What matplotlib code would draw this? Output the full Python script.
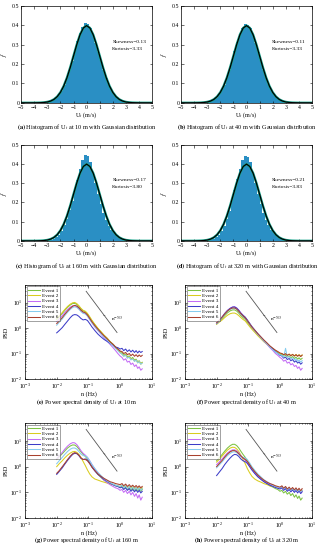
import matplotlib
matplotlib.use("Agg")
import matplotlib.pyplot as plt

plt.rcParams['font.family'] = ['Liberation Serif', 'DejaVu Serif']
plt.rcParams['mathtext.fontset'] = 'stix'

# histogram bins (centres, width 0.2)
binCentres = [-3.1, -2.9, -2.7, -2.5, -2.3, -2.1, -1.9, -1.7, -1.5, -1.3, -1.1, -0.9, -0.7, -0.5, -0.3, -0.1,
              0.1, 0.3, 0.5, 0.7, 0.9, 1.1, 1.3, 1.5, 1.7, 1.9, 2.1, 2.3, 2.5, 2.7, 2.9, 3.1]

hist10 = [0.002, 0.004, 0.008, 0.014, 0.024, 0.040, 0.062, 0.092, 0.128, 0.170, 0.218, 0.268, 0.318, 0.362, 0.394, 0.412,
          0.408, 0.388, 0.352, 0.308, 0.262, 0.214, 0.170, 0.130, 0.096, 0.068, 0.046, 0.030, 0.019, 0.011, 0.006, 0.003]
hist40 = [0.002, 0.004, 0.008, 0.015, 0.025, 0.041, 0.064, 0.093, 0.129, 0.171, 0.218, 0.267, 0.315, 0.358, 0.389, 0.405,
          0.403, 0.385, 0.351, 0.308, 0.263, 0.215, 0.170, 0.130, 0.095, 0.067, 0.045, 0.029, 0.018, 0.010, 0.006, 0.003]
hist160 = [0.002, 0.004, 0.007, 0.012, 0.020, 0.033, 0.052, 0.080, 0.115, 0.158, 0.208, 0.262, 0.318, 0.372, 0.418, 0.445,
           0.440, 0.410, 0.360, 0.300, 0.242, 0.190, 0.145, 0.108, 0.079, 0.057, 0.041, 0.029, 0.020, 0.013, 0.008, 0.005]
hist320 = [0.002, 0.003, 0.006, 0.011, 0.019, 0.032, 0.051, 0.078, 0.113, 0.156, 0.206, 0.262, 0.320, 0.376, 0.422, 0.440,
           0.436, 0.408, 0.360, 0.302, 0.244, 0.192, 0.147, 0.110, 0.081, 0.059, 0.043, 0.030, 0.021, 0.014, 0.009, 0.006]

# standard gaussian read at 0.25 steps
gaussX = [-5.0, -4.75, -4.5, -4.25, -4.0, -3.75, -3.5, -3.25, -3.0, -2.75, -2.5, -2.25, -2.0, -1.75, -1.5, -1.25, -1.0,
          -0.75, -0.5, -0.25, 0.0, 0.25, 0.5, 0.75, 1.0, 1.25, 1.5, 1.75, 2.0, 2.25, 2.5, 2.75, 3.0, 3.25, 3.5, 3.75,
          4.0, 4.25, 4.5, 4.75, 5.0]
gaussY = [0.0, 0.0, 0.0, 0.0, 0.0001, 0.0004, 0.0009, 0.0020, 0.0044, 0.0091, 0.0175, 0.0317, 0.0540, 0.0863, 0.1295,
          0.1826, 0.2420, 0.3011, 0.3521, 0.3867, 0.3989, 0.3867, 0.3521, 0.3011, 0.2420, 0.1826, 0.1295, 0.0863,
          0.0540, 0.0317, 0.0175, 0.0091, 0.0044, 0.0020, 0.0009, 0.0004, 0.0001, 0.0, 0.0, 0.0, 0.0]

skewness = ["0.13", "0.11", "0.17", "0.21"]
kurtosis = ["3.33", "3.33", "3.80", "3.83"]
heights = ["10", "40", "160", "320"]

# PSD frequency grid
freq = [0.010, 0.012, 0.015, 0.018, 0.022, 0.027, 0.032, 0.037, 0.043, 0.050, 0.058, 0.068, 0.080, 0.093, 0.11,
        0.13, 0.16, 0.20, 0.25, 0.31, 0.39, 0.48, 0.60, 0.72, 0.85, 1.0, 1.15, 1.3, 1.5, 1.7, 1.95, 2.2, 2.5,
        2.85, 3.2, 3.6, 4.0, 4.5, 5.0]

psd10 = [
    [2.2, 2.8, 3.8, 5.0, 6.6, 8.2, 9.3, 9.4, 8.6, 7.2, 5.8, 4.8, 4.4, 3.6, 2.6, 1.9, 1.35, 0.95, 0.70, 0.52,
     0.40, 0.30, 0.23, 0.18, 0.15, 0.12, 0.11, 0.085, 0.095, 0.075, 0.08, 0.062, 0.07, 0.055, 0.06, 0.047, 0.052, 0.04, 0.045],
    [2.4, 3.0, 4.1, 5.4, 7.1, 8.8, 9.9, 10.2, 9.2, 7.6, 6.0, 5.0, 4.6, 3.8, 2.8, 2.0, 1.4, 0.98, 0.72, 0.53,
     0.40, 0.29, 0.22, 0.17, 0.14, 0.11, 0.095, 0.08, 0.088, 0.068, 0.074, 0.058, 0.064, 0.05, 0.056, 0.043, 0.049, 0.038, 0.044],
    [1.8, 2.3, 3.1, 4.1, 5.4, 6.7, 7.5, 7.6, 7.0, 5.9, 4.8, 4.0, 3.7, 3.0, 2.2, 1.6, 1.1, 0.80, 0.58, 0.42,
     0.31, 0.23, 0.17, 0.13, 0.10, 0.08, 0.07, 0.055, 0.062, 0.046, 0.05, 0.037, 0.042, 0.031, 0.036, 0.026, 0.03, 0.022, 0.025],
    [0.65, 0.8, 1.05, 1.4, 1.9, 2.6, 3.2, 3.4, 3.3, 2.9, 2.4, 2.1, 2.2, 2.0, 1.5, 1.1, 0.8, 0.58, 0.45, 0.36,
     0.30, 0.25, 0.21, 0.18, 0.17, 0.15, 0.16, 0.13, 0.15, 0.12, 0.14, 0.115, 0.135, 0.11, 0.13, 0.105, 0.125, 0.11, 0.12],
    [1.3, 1.7, 2.3, 3.1, 4.2, 5.5, 6.5, 6.9, 6.5, 5.5, 4.5, 3.8, 3.6, 3.0, 2.2, 1.6, 1.15, 0.82, 0.60, 0.45,
     0.34, 0.26, 0.20, 0.16, 0.13, 0.105, 0.095, 0.078, 0.085, 0.066, 0.072, 0.056, 0.062, 0.049, 0.055, 0.043, 0.048, 0.038, 0.042],
    [1.5, 1.9, 2.6, 3.5, 4.7, 6.1, 7.3, 7.8, 7.4, 6.3, 5.1, 4.3, 4.0, 3.3, 2.4, 1.75, 1.25, 0.9, 0.66, 0.5,
     0.38, 0.29, 0.23, 0.18, 0.15, 0.125, 0.12, 0.1, 0.11, 0.09, 0.1, 0.082, 0.095, 0.078, 0.09, 0.075, 0.088, 0.076, 0.085],
]

psd40 = [
    [1.5, 1.8, 2.4, 3.1, 4.0, 4.8, 5.2, 5.2, 4.7, 3.9, 3.1, 2.6, 2.2, 1.7, 1.3, 1.0, 0.75, 0.55, 0.41, 0.31,
     0.24, 0.19, 0.15, 0.125, 0.11, 0.095, 0.09, 0.078, 0.085, 0.072, 0.08, 0.068, 0.076, 0.064, 0.072, 0.06, 0.068, 0.058, 0.065],
    [1.4, 1.7, 2.1, 2.6, 3.2, 3.7, 3.9, 3.9, 3.6, 3.1, 2.6, 2.2, 1.9, 1.5, 1.15, 0.9, 0.68, 0.5, 0.38, 0.29,
     0.23, 0.18, 0.15, 0.13, 0.115, 0.1, 0.1, 0.088, 0.098, 0.085, 0.095, 0.082, 0.093, 0.08, 0.092, 0.08, 0.09, 0.078, 0.088],
    [1.6, 2.0, 2.8, 3.8, 5.0, 6.1, 6.8, 6.9, 6.2, 5.1, 4.0, 3.2, 2.6, 2.0, 1.5, 1.1, 0.8, 0.58, 0.42, 0.31,
     0.23, 0.17, 0.13, 0.1, 0.085, 0.07, 0.062, 0.05, 0.055, 0.042, 0.046, 0.036, 0.04, 0.031, 0.034, 0.026, 0.03, 0.022, 0.026],
    [1.5, 1.9, 2.7, 3.7, 4.9, 6.0, 6.7, 6.8, 6.1, 5.0, 3.9, 3.2, 2.7, 2.1, 1.55, 1.15, 0.84, 0.6, 0.44, 0.33,
     0.25, 0.19, 0.15, 0.12, 0.1, 0.085, 0.08, 0.066, 0.072, 0.058, 0.064, 0.052, 0.058, 0.046, 0.052, 0.042, 0.047, 0.038, 0.043],
    [1.5, 1.9, 2.6, 3.5, 4.6, 5.5, 6.0, 6.0, 5.4, 4.5, 3.5, 2.9, 2.4, 1.9, 1.4, 1.05, 0.78, 0.57, 0.42, 0.31,
     0.24, 0.18, 0.14, 0.115, 0.1, 0.088, 0.085, 0.072, 0.16, 0.07, 0.075, 0.062, 0.068, 0.056, 0.062, 0.05, 0.056, 0.046, 0.052],
    [1.6, 2.0, 2.7, 3.6, 4.7, 5.7, 6.2, 6.2, 5.6, 4.6, 3.7, 3.0, 2.5, 1.95, 1.45, 1.1, 0.82, 0.6, 0.45, 0.34,
     0.26, 0.2, 0.16, 0.135, 0.12, 0.105, 0.1, 0.09, 0.098, 0.085, 0.094, 0.082, 0.092, 0.08, 0.09, 0.078, 0.088, 0.076, 0.086],
]

psd160 = [
    [1.9, 2.4, 3.2, 4.1, 5.3, 6.4, 7.0, 6.9, 6.1, 4.9, 3.8, 3.0, 2.5, 2.0, 1.5, 1.05, 0.72, 0.5, 0.38, 0.3,
     0.25, 0.22, 0.2, 0.18, 0.17, 0.16, 0.17, 0.14, 0.16, 0.13, 0.15, 0.125, 0.145, 0.12, 0.14, 0.115, 0.135, 0.11, 0.13],
    [1.0, 1.3, 1.7, 2.2, 2.8, 3.4, 3.8, 3.9, 3.6, 3.0, 2.3, 1.6, 1.1, 0.75, 0.52, 0.4, 0.33, 0.3, 0.27, 0.25,
     0.23, 0.21, 0.2, 0.19, 0.18, 0.17, 0.19, 0.16, 0.18, 0.15, 0.17, 0.145, 0.165, 0.14, 0.16, 0.135, 0.155, 0.13, 0.15],
    [2.0, 2.6, 3.6, 4.8, 6.3, 7.8, 8.6, 8.4, 7.2, 5.6, 4.2, 3.3, 2.8, 2.3, 1.7, 1.2, 0.8, 0.55, 0.4, 0.3,
     0.24, 0.2, 0.17, 0.15, 0.14, 0.12, 0.13, 0.1, 0.12, 0.09, 0.11, 0.08, 0.1, 0.07, 0.09, 0.06, 0.08, 0.05, 0.065],
    [0.5, 0.65, 0.9, 1.25, 1.75, 2.4, 3.0, 3.3, 3.2, 2.7, 2.1, 1.9, 2.0, 1.8, 1.35, 0.95, 0.68, 0.5, 0.4, 0.32,
     0.27, 0.23, 0.2, 0.18, 0.17, 0.15, 0.16, 0.13, 0.15, 0.12, 0.14, 0.11, 0.13, 0.105, 0.125, 0.1, 0.12, 0.095, 0.11],
    [1.3, 1.7, 2.3, 3.0, 3.9, 4.8, 5.3, 5.3, 4.8, 3.9, 3.1, 2.7, 2.6, 2.3, 1.7, 1.2, 0.85, 0.6, 0.45, 0.35,
     0.28, 0.24, 0.21, 0.19, 0.18, 0.17, 0.19, 0.15, 0.18, 0.14, 0.17, 0.135, 0.16, 0.13, 0.155, 0.125, 0.15, 0.12, 0.14],
    [0.55, 0.7, 1.0, 1.35, 1.9, 2.6, 3.2, 3.5, 3.3, 2.8, 2.2, 1.9, 1.9, 1.7, 1.3, 0.95, 0.7, 0.52, 0.42, 0.35,
     0.3, 0.26, 0.24, 0.22, 0.21, 0.2, 0.22, 0.18, 0.21, 0.17, 0.2, 0.165, 0.19, 0.16, 0.185, 0.155, 0.18, 0.15, 0.17],
]

psd320 = [
    [1.7, 2.2, 3.0, 4.0, 5.3, 6.6, 7.4, 7.4, 6.6, 5.3, 4.0, 3.0, 2.3, 1.7, 1.25, 0.9, 0.63, 0.45, 0.34, 0.27,
     0.22, 0.18, 0.16, 0.14, 0.13, 0.11, 0.12, 0.095, 0.11, 0.085, 0.1, 0.075, 0.09, 0.065, 0.08, 0.058, 0.072, 0.05, 0.06],
    [1.5, 1.9, 2.6, 3.4, 4.4, 5.3, 5.7, 5.6, 4.9, 3.9, 2.8, 1.9, 1.3, 0.85, 0.58, 0.42, 0.33, 0.28, 0.25, 0.22,
     0.2, 0.18, 0.17, 0.16, 0.15, 0.14, 0.16, 0.13, 0.15, 0.12, 0.14, 0.115, 0.135, 0.11, 0.13, 0.105, 0.125, 0.1, 0.12],
    [1.2, 1.5, 2.0, 2.6, 3.4, 4.1, 4.5, 4.5, 4.1, 3.4, 2.7, 2.2, 1.8, 1.4, 1.05, 0.78, 0.57, 0.42, 0.33, 0.27,
     0.23, 0.2, 0.18, 0.16, 0.15, 0.14, 0.155, 0.125, 0.145, 0.115, 0.135, 0.11, 0.13, 0.105, 0.125, 0.1, 0.12, 0.095, 0.11],
    [0.45, 0.6, 0.85, 1.2, 1.65, 2.2, 2.7, 3.0, 2.9, 2.5, 2.0, 1.7, 1.55, 1.35, 1.0, 0.74, 0.54, 0.4, 0.32, 0.26,
     0.22, 0.19, 0.17, 0.155, 0.145, 0.135, 0.15, 0.12, 0.14, 0.11, 0.13, 0.105, 0.125, 0.1, 0.12, 0.095, 0.115, 0.09, 0.105],
    [0.9, 1.15, 1.55, 2.05, 2.7, 3.3, 3.7, 3.8, 3.5, 3.0, 2.5, 2.3, 2.2, 1.9, 1.4, 1.0, 0.72, 0.52, 0.4, 0.31,
     0.26, 0.22, 0.19, 0.17, 0.16, 0.15, 0.17, 0.135, 0.16, 0.125, 0.15, 0.12, 0.14, 0.115, 0.135, 0.11, 0.13, 0.105, 0.12],
    [1.0, 1.3, 1.75, 2.35, 3.1, 3.8, 4.2, 4.2, 3.8, 3.2, 2.6, 2.2, 1.9, 1.6, 1.2, 0.88, 0.64, 0.47, 0.37, 0.3,
     0.25, 0.22, 0.2, 0.18, 0.17, 0.16, 0.18, 0.145, 0.17, 0.135, 0.16, 0.13, 0.155, 0.125, 0.15, 0.12, 0.145, 0.115, 0.14],
]

eventLabels = ["Event 1", "Event 2", "Event 3", "Event 4", "Event 5", "Event 6"]
eventColors = ["#7cc242", "#d9cc1f", "#c46cf5", "#3c3cc8", "#86ccef", "#a8402e"]

# -5/3 reference line
refN = [0.085, 0.8]
refPSD = [28, 0.67]


def styleAxes(ax):
    ax.tick_params(direction='in', which='both', top=True, right=True, labelsize=4.2,
                   length=1.8, width=0.4, pad=1.2)
    ax.tick_params(which='minor', length=1.0)
    for s in ax.spines.values():
        s.set_linewidth(0.5)


def plotHist(ax, hist, i):
    ax.bar(binCentres, hist, width=0.2, color='#2a8fc4', edgecolor='none', zorder=1)
    ax.plot(gaussX, gaussY, color='#19a58c', lw=1.8, zorder=2)
    ax.plot(gaussX, gaussY, color='black', lw=0.9, zorder=3)
    ax.set_xlim(-5, 5)
    ax.set_ylim(0, 0.5)
    ax.set_xticks(range(-5, 6))
    ax.set_yticks([0, 0.1, 0.2, 0.3, 0.4, 0.5])
    ax.set_yticklabels(["0", "0.1", "0.2", "0.3", "0.4", "0.5"])
    ax.text(1.95, 0.31, "Skewness=" + skewness[i], fontsize=3.9)
    ax.text(1.95, 0.275, "Kurtosis=" + kurtosis[i], fontsize=3.9)
    ax.set_xlabel(r"U$_t$ (m/s)", fontsize=4.4, labelpad=0.5)
    ax.set_ylabel(r"$f$", fontsize=4.8, labelpad=2)
    styleAxes(ax)


def plotPSD(ax, psd):
    for k in range(len(psd)):
        ax.plot(freq, psd[k], color=eventColors[k], lw=0.75, label=eventLabels[k])
    ax.plot(refN, refPSD, color='#555555', lw=0.6)
    ax.annotate(r"n$^{-5/3}$", xy=(0.3, 3.2), xytext=(0.5, 2.2), fontsize=3.8,
                va='center', arrowprops=dict(arrowstyle='-', color='#444444', lw=0.4))
    ax.set_xscale('log')
    ax.set_yscale('log')
    ax.set_xlim(1e-3, 10)
    ax.set_ylim(1e-2, 50)
    ax.set_xlabel("n (Hz)", fontsize=4.4, labelpad=0)
    ax.set_ylabel("PSD", fontsize=4.4, labelpad=1)
    leg = ax.legend(loc='upper left', fontsize=3.8, handlelength=2.2, labelspacing=0.12,
                    borderpad=0.3, handletextpad=0.4, borderaxespad=0.3, fancybox=False)
    leg.get_frame().set_linewidth(0.4)
    leg.get_frame().set_edgecolor('#333333')
    styleAxes(ax)
    # keep the corner labels apart
    ax.tick_params(axis='x', which='major', pad=2.2)
    ax.tick_params(axis='y', which='major', pad=1.8)


fig = plt.figure(figsize=(3.25, 5.5), dpi=100)

histPos = [[0.065, 0.813, 0.403, 0.176], [0.557, 0.813, 0.403, 0.176],
           [0.065, 0.562, 0.403, 0.175], [0.557, 0.562, 0.403, 0.175]]
psdPos = [[0.077, 0.311, 0.39, 0.171], [0.569, 0.311, 0.39, 0.171],
          [0.077, 0.058, 0.39, 0.173], [0.569, 0.058, 0.39, 0.173]]

hists = [hist10, hist40, hist160, hist320]
psds = [psd10, psd40, psd160, psd320]
letters = ["a", "b", "c", "d", "e", "f", "g", "h"]
captionX = [0.266, 0.76]
histCapY = [0.769, 0.516]
psdCapY = [0.269, 0.017]

for i in range(4):
    ax = fig.add_axes(histPos[i])
    plotHist(ax, hists[i], i)
    fig.text(captionX[i % 2], histCapY[i // 2],
             r"$\bf{(" + letters[i] + r")}$ Histogram of U$_t$ at " + heights[i] + " m with Gaussian distribution",
             ha='center', va='center', fontsize=4.5)

for i in range(4):
    ax = fig.add_axes(psdPos[i])
    plotPSD(ax, psds[i])
    fig.text(captionX[i % 2], psdCapY[i // 2],
             r"$\bf{(" + letters[i + 4] + r")}$ Power spectral density of U$_t$ at " + heights[i] + " m",
             ha='center', va='center', fontsize=4.5)

fig.savefig("out.png", dpi=100)
